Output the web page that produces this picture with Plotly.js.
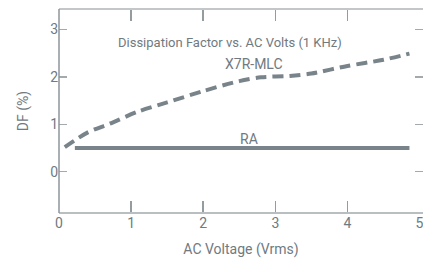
<!DOCTYPE html>
<html>
<head>
<meta charset="utf-8">
<script src="https://cdn.plot.ly/plotly-3.0.1.min.js"></script>
<style>html,body{margin:0;padding:0;background:#fff;}#chart{width:423px;height:258px;}</style>
</head>
<body>
<div id="chart"></div>
<script>
// X7R-MLC dissipation factor vs AC voltage
const x7rVolts = [0.08, 0.4, 0.7, 1.1, 1.5, 2.0, 2.5, 2.8, 3.2, 3.5, 4.0, 4.5, 4.86];
const x7rDF    = [0.52, 0.83, 1.01, 1.27, 1.46, 1.70, 1.91, 1.99, 2.02, 2.07, 2.23, 2.36, 2.49];
// RA series
const raVolts = [0.22, 4.86];
const raDF    = [0.5, 0.5];
const xTicks = [0, 1, 2, 3, 4, 5];
const xTickMarks = [1, 2, 3, 4];
const yTicks = [0, 1, 2, 3];

const lineCol = '#78838a';
const textCol = '#6f7a81';
const tickCol = '#a3aaae';
const xTickCol = '#959ca0';
const fontFam = '"Roboto", "DejaVu Sans Condensed", sans-serif';
const xRange = [0, 5.048];

const traces = [
  {x: x7rVolts, y: x7rDF, mode: 'lines', line: {color: lineCol, width: 4, dash: '11px,6px', shape: 'spline', smoothing: 0.8}, hoverinfo: 'skip'},
  {x: raVolts, y: raDF, mode: 'lines', line: {color: lineCol, width: 4}, hoverinfo: 'skip'},
  {x: [], y: [], xaxis: 'x2', yaxis: 'y', mode: 'lines', hoverinfo: 'skip'}
];

const layout = {
  width: 423, height: 258,
  margin: {l: 59, r: 0, t: 9, b: 45},
  paper_bgcolor: '#fff', plot_bgcolor: 'rgba(0,0,0,0)',
  showlegend: false,
  font: {family: fontFam, color: textCol, size: 13},
  xaxis: {
    range: xRange, tickmode: 'array', tickvals: xTicks, ticks: '',
    showline: false, showgrid: false, zeroline: false,
    ticklabeloverflow: 'allow',
    tickfont: {size: 14, color: textCol},
    title: {text: 'AC Voltage (Vrms)', font: {size: 14, color: textCol}, standoff: 14}
  },
  xaxis2: {
    overlaying: 'x', anchor: 'y', side: 'bottom', range: xRange, tickmode: 'array', tickvals: xTickMarks,
    ticks: 'inside', ticklen: 12, tickwidth: 1.5, tickcolor: xTickCol, mirror: 'ticks',
    showline: false, showgrid: false, zeroline: false, showticklabels: false
  },
  yaxis: {
    range: [-0.87, 3.43], tickmode: 'array', tickvals: yTicks, ticks: 'inside', ticklen: 8, tickwidth: 1.5, tickcolor: tickCol,
    showline: false, mirror: 'ticks', showgrid: false, zeroline: false,
    tickfont: {size: 14, color: textCol},
    title: {text: 'DF (%)', font: {size: 14, color: textCol}, standoff: 18}
  },
  shapes: [
    {type: 'line', xref: 'paper', yref: 'paper', x0: 0, x1: 1, y0: 1, y1: 1, line: {color: '#c3c7ca', width: 2}},
    {type: 'line', xref: 'paper', yref: 'paper', x0: 0, x1: 1, y0: 0, y1: 0, line: {color: '#b9bec1', width: 2}},
    {type: 'line', xref: 'paper', yref: 'paper', x0: 0, x1: 0, y0: 0, y1: 1, line: {color: '#8c9498', width: 1.5}}
  ],
  annotations: [
    {x: 2.37, y: 2.73, xref: 'x', yref: 'y', text: 'Dissipation Factor vs. AC Volts (1 KHz)', showarrow: false, font: {size: 13, color: textCol}},
    {x: 2.71, y: 2.28, xref: 'x', yref: 'y', text: 'X7R-MLC', showarrow: false, font: {size: 14, color: textCol}},
    {x: 2.64, y: 0.70, xref: 'x', yref: 'y', text: 'RA', showarrow: false, font: {size: 14, color: textCol}}
  ]
};

Plotly.newPlot('chart', traces, layout, {staticPlot: true, displayModeBar: false});
</script>
</body>
</html>
